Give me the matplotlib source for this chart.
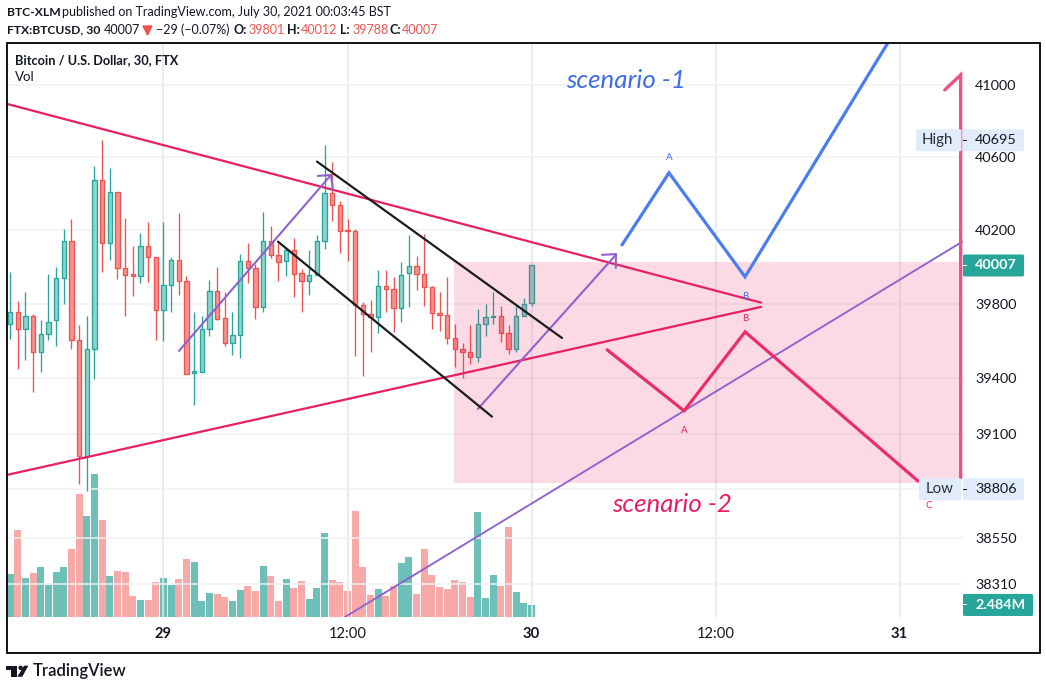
import matplotlib
matplotlib.use("Agg")
import matplotlib.pyplot as plt
from matplotlib.patches import Rectangle, Polygon, Circle, FancyBboxPatch
from matplotlib.ticker import NullLocator, NullFormatter
from matplotlib.transforms import IdentityTransform

plt.rcParams["font.family"] = ["Lato", "DejaVu Sans"]

# ---------- data ----------
first_bar = -20
opens = [39691,39755,39664,39734,39540,39637,39712,39939,40139,39604,38980,39556,40473,40128,40412,39993,39960,39950,40112,40052,
         39766,39901,40036,39922,39427,39432,39664,39868,39723,39588,39631,40031,39993,39782,40139,40063,40031,40090,39966,39922,
         39955,40139,40402,40336,40200,40198,39793,39744,39728,39895,39879,39777,39966,40004,39960,39890,39750,39739,39615,39556,
         39540,39513,39691,39728,39734,39642,39556,39734,39801]
highs = [39973,39816,39865,39741,39709,39962,40000,40205,40261,39682,39735,40552,40695,40541,40412,40265,40114,40184,40245,40052,
         40245,40054,40294,39951,39752,39730,39930,40000,39865,39757,40070,40130,40014,40299,40222,40128,40106,40157,39987,40090,
         40171,40668,40574,40360,40261,40205,39809,39822,39984,39984,39946,40027,40173,40059,40178,39897,39865,39946,39687,39585,
         39682,39768,39795,39865,39789,39682,39789,39832,40012]
lows = [39606,39445,39493,39322,39429,39601,39569,39795,39552,38836,38798,39391,39973,40038,39935,39735,39843,39913,39919,39601,
        39595,39757,39849,39421,39252,39432,39622,39709,39569,39520,39504,39913,39719,39752,40049,39924,39951,39838,39752,39849,
        39955,40097,40250,40076,40032,39515,39407,39541,39639,39752,39644,39698,39784,39876,39789,39665,39649,39579,39456,39396,
        39472,39482,39622,39692,39590,39526,39536,39734,39788]
closes = [39755,39664,39734,39540,39637,39701,39939,40139,39604,38980,39556,40473,40128,40412,39993,39955,39950,40112,40052,39766,
          39901,40036,39922,39421,39438,39664,39868,39717,39588,39631,40031,39993,39782,40139,40063,40025,40090,39960,39922,39955,
          40139,40402,40336,40198,40196,39793,39744,39728,39895,39879,39777,39955,40004,39960,39890,39750,39739,39615,39556,39540,
          39513,39691,39728,39734,39642,39556,39734,39798,40007]
volumes = [9.09,18.46,8.24,9.30,10.58,6.75,9.51,10.58,14.41,26.13,21.44,30.39,20.59,8.66,9.73,9.51,4.40,3.55,3.55,7.38,
           8.24,6.75,8.02,12.28,11.64,3.34,5.04,4.83,4.19,3.34,5.68,6.53,5.47,10.79,8.66,3.34,8.02,6.11,7.60,3.76,
           6.11,17.82,7.81,7.38,5.47,22.51,10.58,4.62,5.89,4.40,6.53,11.43,12.71,4.83,14.41,8.88,6.32,5.89,7.81,7.38,
           4.19,22.29,3.98,8.88,6.53,19.10,5.25,2.91,2.484]

price_ticks = [41000,40600,40200,39800,39400,39100,38550,38310]
time_ticks = [0,24,48,72,96]
time_labels = ["29","12:00","30","12:00","31"]
time_bold = [True,False,True,False,True]
high_price, low_price, last_price = 40695, 38806, 40007
last_volume_label = "2.484M"

# drawings as (bar index, price) anchors
upper_trend = ([-20.41,77.95],[40897,39805])
lower_trend = ([-20.41,77.95],[38882,39782])
long_line = ([23.67,104.15],[38137,40136])
arrow_up1 = ([2.02,21.84],[39544,40503])
arrow_up1_head = ([20.11,21.84,22.1],[40498,40503,40421])
arrow_up2 = ([41.0,59.0],[39233,40065])
arrow_up2_head = ([57.2,59.0,59.0],[40065,40069,39994])
chan_top = ([20.02,51.97],[40577,39614])
chan_bot = ([14.93,42.84],[40137,39192])
blue_path = ([59.8,65.93,75.85,94.5],[40119,40515,39945,41240])
pink_path = ([57.86,67.9,75.85,98.4],[39550,39223,39647,38850])
box_bars = (37.89,104.21)
box_prices = (38840,40027)
vert_arrow = ([101.9,103.97,103.97],[40975,41059,38866])

# ---------- layout ----------
W, H = 1046, 690
fig = plt.figure(figsize=(W/100, H/100), dpi=100, facecolor="white")
L, R, T, B = 7, 962.5, 44, 617
pos = [L/W, (H-B)/H, (R-L)/W, (B-T)/H]
ax_v = fig.add_axes(pos, zorder=1)
ax = fig.add_axes(pos, zorder=2, facecolor="none")
xlim = (-20.41, 104.21)

GREEN, RED = "#26a69a", "#ef5350"
INK = "#131722"
bars = [first_bar+k for k in range(len(opens))]

# volume
vcol = ["#6cc0b8" if c >= o else "#f7a9a7" for o, c in zip(opens, closes)]
ax_v.bar(bars, volumes, width=0.88, color=vcol, lw=0)
ax_v.set_xlim(*xlim); ax_v.set_ylim(-0.07, 121.6)
ax_v.axis("off")

# price
ax.set_yscale("log")
ax.set_xlim(*xlim); ax.set_ylim(38137, 41232)
for s in ax.spines.values():
    s.set_visible(False)
ax.yaxis.set_minor_locator(NullLocator()); ax.yaxis.set_minor_formatter(NullFormatter())
ax.yaxis.tick_right()
ax.set_yticks(price_ticks + [38806]); ax.set_yticklabels([str(p) for p in price_ticks] + [""])
ax.tick_params(axis="y", length=0, pad=9, labelsize=10.4, labelcolor=INK)
ax.set_xticks(time_ticks); ax.set_xticklabels([])
ax.tick_params(axis="x", length=0)
ax.set_axisbelow(True)
ax.grid(axis="y", color="#f0f1f3", lw=1.1)
ax.grid(axis="x", color="#e6e6e8", lw=1.1)

for x, o, h, l, c in zip(bars, opens, highs, lows, closes):
    up = c >= o
    col = GREEN if up else RED
    fc = "#8fd3cc" if up else "#f8908e"
    ax.vlines(x, l, h, color=col, lw=0.95, zorder=3)
    ax.bar(x, abs(c-o) if abs(c-o) > 0 else 1, bottom=min(o, c), width=0.56,
           facecolor=fc, edgecolor=col, lw=0.95, zorder=4)

ax.add_patch(Rectangle((box_bars[0], box_prices[0]), box_bars[1]-box_bars[0], box_prices[1]-box_prices[0],
                       facecolor="#e91e63", alpha=0.16, lw=0, zorder=5))
TRI = "#e91e63"; PUR = "#8e62cc"
ln = dict(solid_capstyle="round", solid_joinstyle="miter", zorder=6)
ax.plot(*upper_trend, color=TRI, lw=1.6, **ln)
ax.plot(*lower_trend, color=TRI, lw=1.6, **ln)
ax.plot(*long_line, color=PUR, lw=1.35, **ln)
for a in (arrow_up1, arrow_up1_head, arrow_up2, arrow_up2_head):
    ax.plot(*a, color=PUR, lw=1.5, **ln)
ax.plot(*chan_top, color="#1c1c1c", lw=1.6, **ln)
ax.plot(*chan_bot, color="#1c1c1c", lw=1.6, **ln)
ax.plot(*blue_path, color="#4a7df2", lw=2.3, **ln)
ax.plot(*pink_path, color="#ec2d6c", lw=2.3, **ln)
ax.plot(*vert_arrow, color="#ef5087", lw=2.4, **ln)

for x, p, s, col in [(65.93,40600,"A","#3d6ee8"),(75.85,39840,"B","#3d6ee8"),(75.85,39720,"B",TRI),
                     (67.9,39118,"A",TRI),(99.8,38718,"C",TRI)]:
    ax.text(x, p, s, color=col, fontsize=7, ha="center", va="center", zorder=7)

def tx(x, y, s, **kw):
    kw.setdefault("va", "center"); kw.setdefault("color", INK); kw.setdefault("fontsize", 9.2)
    return fig.text(x/W, 1-y/H, s, **kw)

tx(566, 81, "scenario -1", color="#3d6ee8", fontsize=18.6, style="italic")
tx(612, 504, "scenario -2", color=TRI, fontsize=18.6, style="italic")

# time axis labels
for t, s, b in zip(time_ticks, time_labels, time_bold):
    xp = L + (t-xlim[0])/(xlim[1]-xlim[0])*(R-L)
    tx(xp, 634, s, ha="center", fontsize=10.6, weight="bold" if b else "normal")

# header
tx(7, 12, "BTC-XLM", weight="bold", fontsize=8.7)
tx(62, 12, "published on TradingView.com, July 30, 2021 00:03:45 BST", fontsize=9.0)
tx(7, 30, "FTX:BTCUSD, 30", weight="bold", fontsize=8.7)
tx(104, 30, "40007", fontsize=9.0)
tx(156, 30, "\u221229 (\u22120.07%)", fontsize=9.0)
for x, s, bold in [(234,"O:",1),(248,"39801",0),(287,"H:",1),(301,"40012",0),(340,"L:",1),(352,"39788",0),(390,"C:",1),(402,"40007",0)]:
    tx(x, 30, s, weight="bold" if bold else "normal", color=INK if bold else RED, fontsize=9.0)
fig.add_artist(Polygon([(143, H-26), (152, H-26), (147.5, H-35)], closed=True, color=RED, transform=IdentityTransform()))
tx(15, 60, "Bitcoin / U.S. Dollar, 30, FTX", weight="bold", fontsize=9.2)
tx(15, 77, "Vol", fontsize=9.6)

# price labels
def rbox(x0, x1, yc, col):
    fig.add_artist(FancyBboxPatch((x0, H-yc-11), x1-x0, 22, boxstyle="round,pad=0,rounding_size=1.5",
                                  fc=col, ec="none", transform=IdentityTransform(), zorder=10))
def yp(price):
    return H - ax.transData.transform((0, price))[1]

BLUEBOX = "#e1ecfb"
for price, name, x0, xname in [(high_price, "High", 916, 922), (low_price, "Low", 919, 926)]:
    yc = yp(price)
    rbox(x0, 961.5, yc, BLUEBOX); rbox(963, 1024, yc, BLUEBOX)
    tx(xname, yc, name, fontsize=10.8, zorder=11, color="#2a2e39")
    tx(975, yc, str(price), fontsize=10.4, zorder=11)
    fig.add_artist(Rectangle((963, H-yc-0.5), 4, 1, fc=INK, ec="none", transform=IdentityTransform(), zorder=11))
yc = yp(last_price)
rbox(963, 1024, yc, GREEN)
tx(975, yc, str(last_price), color="white", weight="bold", fontsize=10.4, zorder=11)
fig.add_artist(Rectangle((963, H-yc-0.5), 4, 1, fc="white", ec="none", transform=IdentityTransform(), zorder=11))
yc = H - ax_v.transData.transform((0, volumes[-1]))[1]
rbox(963, 1033, yc, GREEN)
tx(975, yc, last_volume_label, color="white", weight="bold", fontsize=10.4, zorder=11)
fig.add_artist(Rectangle((963, H-yc-0.5), 4, 1, fc="white", ec="none", transform=IdentityTransform(), zorder=11))

# frame
fig.add_artist(Rectangle((6.5, H-653), 1033, 610, fill=False, ec="black", lw=1.3, transform=IdentityTransform(), zorder=20))

# logo
I = IdentityTransform()
fig.add_artist(Polygon([(6,H-665.7),(16.7,H-665.7),(16.7,H-676.7),(11,H-676.7),(11,H-670),(6,H-670)], closed=True, fc=INK, ec="none", transform=I))
fig.add_artist(Circle((20.6, H-667.8), 2.2, fc=INK, ec="none", transform=I))
fig.add_artist(Polygon([(24,H-665.7),(28.3,H-665.7),(22.3,H-676.7),(17.3,H-676.7)], closed=True, fc=INK, ec="none", transform=I))
tx(33, 671, "TradingView", fontsize=12.0, weight="semibold")

fig.savefig("out.png", dpi=100)
